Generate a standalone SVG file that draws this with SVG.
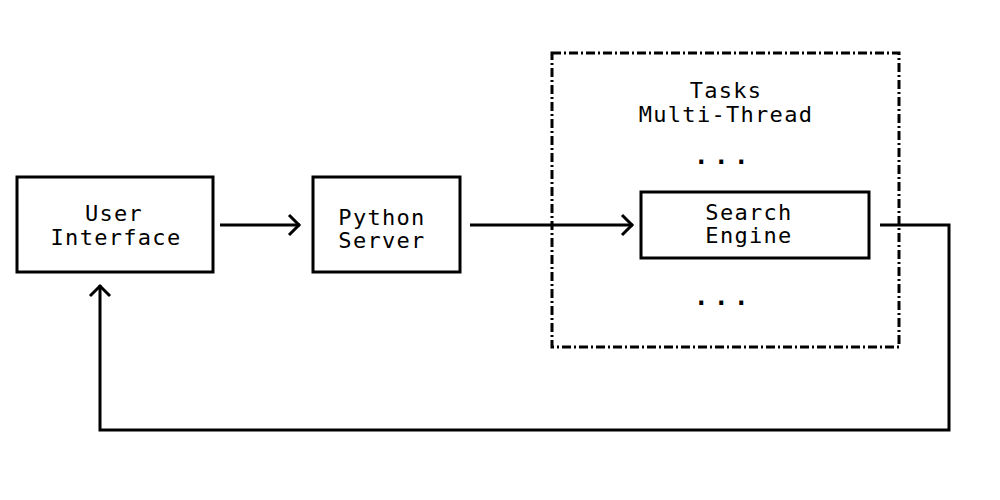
<svg xmlns="http://www.w3.org/2000/svg" width="1000" height="500" viewBox="0 0 1000 500">
<style>
.box{fill:none;stroke:#000;stroke-width:3}
.grp{fill:none;stroke:#000;stroke-width:3;stroke-dasharray:9 3 2 3}
.lbl{font-family:"DejaVu Sans Mono","Liberation Mono",monospace;font-size:22px;letter-spacing:1.3px;fill:#000;text-anchor:middle}
.dots{font-family:"DejaVu Sans Mono","Liberation Mono",monospace;font-size:24px;font-weight:bold;letter-spacing:5.5px;fill:#000;text-anchor:middle}
.con{fill:none;stroke:#000;stroke-width:3}
</style>
<defs>
<marker id="arr" viewBox="0 0 16 24" refX="14" refY="12" markerWidth="16" markerHeight="24" markerUnits="userSpaceOnUse" orient="auto">
<path d="M3 2 L13 12 L3 22" fill="none" stroke="#000" stroke-width="3"/>
</marker>
</defs>
<rect width="1000" height="500" fill="#fff"/>
<g id="group-tasks">
<rect class="grp" x="552" y="53" width="347" height="294"/>
<text class="lbl" x="726" y="98">Tasks</text>
<text class="lbl" x="726" y="122">Multi-Thread</text>
<text class="dots" x="724" y="164">...</text>
<text class="dots" x="724" y="305">...</text>
</g>
<g id="node-ui">
<rect class="box" x="17" y="177" width="196" height="95"/>
<text class="lbl" x="114" y="221">User</text>
<text class="lbl" x="116" y="245">Interface</text>
</g>
<g id="node-python">
<rect class="box" x="313" y="177" width="147" height="95"/>
<text class="lbl" x="382" y="225">Python</text>
<text class="lbl" x="382" y="248">Server</text>
</g>
<g id="node-search">
<rect class="box" x="641" y="192" width="228" height="66"/>
<text class="lbl" x="749" y="220">Search</text>
<text class="lbl" x="749" y="243">Engine</text>
</g>
<g id="connectors">
<path class="con" d="M220 225 H300" marker-end="url(#arr)"/>
<path class="con" d="M470 225 H633" marker-end="url(#arr)"/>
<path class="con" d="M880 225 H949 V430 H100 V285" marker-end="url(#arr)"/>
</g>
</svg>
